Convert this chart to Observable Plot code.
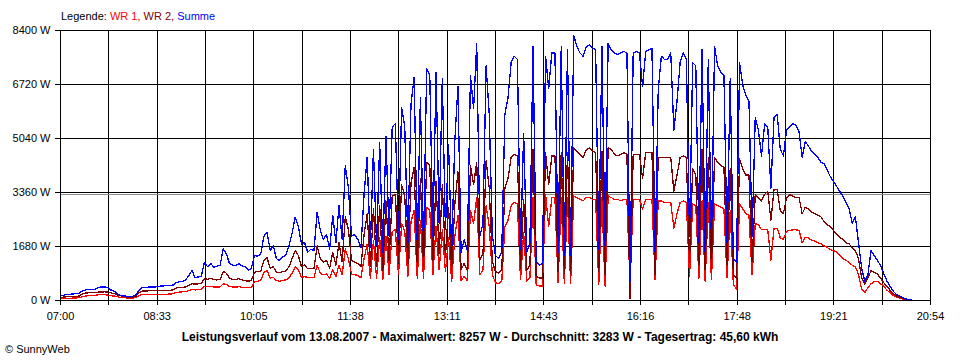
<!DOCTYPE html>
<html><head><meta charset="utf-8">
<script src="https://cdn.jsdelivr.net/npm/d3@7"></script>
<script src="https://cdn.jsdelivr.net/npm/@observablehq/plot@0.6"></script>
<style>
body{margin:0;background:#fff;font-family:Arial,"Liberation Sans",sans-serif;color:#000;}
#wrap{position:relative;width:960px;height:360px;overflow:hidden;background:#fff;}
#chart{position:absolute;left:0;top:0;}
#legend{position:absolute;left:61px;top:10px;font-size:11px;line-height:13px;white-space:nowrap;}
#caption{position:absolute;left:0;width:960px;top:330px;text-align:center;font-size:12px;font-weight:bold;line-height:14px;white-space:nowrap;}
#copy{position:absolute;left:5px;top:343px;font-size:11px;line-height:13px;white-space:nowrap;}
</style></head><body>
<div id="wrap"><div id="chart"></div><div id="legend"></div><div id="caption"></div><div id="copy"></div></div>
<script>
// ---- data ----
const startLabel = "07:00";
const sampleMinutes = 3;
const spanMinutes = 834;
const xTickLabels = ["07:00","08:33","10:05","11:38","13:11","14:43","16:16","17:48","19:21","20:54"];
const yTicks = [0, 1680, 3360, 5040, 6720, 8400];
const seriesNames = ["WR 1", "WR 2", "Summe"];
const seriesColors = ["#ff0000", "#800000", "#0000ff"];
const dateLabel = "13.08.2007";
const maxW = 8257;
const avgW = 3283;
const dayKWh = "45,60";
const copyright = "© SunnyWeb";

const wr1 = [50,60,70,70,75,80,90,120,140,150,150,160,175,180,180,170,150,140,120,100,
90,80,75,80,85,150,185,190,190,190,190,190,195,195,195,200,210,250,260,270,
280,310,340,330,335,340,440,430,440,420,420,420,520,500,440,420,415,430,410,400,
400,410,580,600,620,880,930,700,720,620,600,630,640,700,850,1040,950,720,740,720,
720,710,1100,850,800,820,700,950,750,1100,800,1600,1300,820,800,780,700,1300,1750,700,
1850,700,1950,650,2000,800,2150,2200,800,2400,2150,750,2450,2800,700,2500,700,2900,2800,800,
2300,950,2200,900,1950,600,2000,2650,620,750,620,2800,2400,3200,800,950,2950,2300,800,550,
520,600,2300,2500,2950,3050,3000,650,2100,600,720,3200,480,450,450,3300,2300,3200,3200,550,
3200,520,3200,520,3250,3200,3150,3100,3200,3200,3150,3150,500,3200,450,3250,3200,3150,3150,3100,
3150,3150,500,3150,3150,3150,2850,3150,3150,3150,650,3100,3100,3050,3050,3050,2250,2700,3050,3100,
3050,750,3000,2950,700,3100,600,3050,650,3000,2950,2900,2850,700,2800,500,350,3000,2850,2700,
2650,800,2400,2350,2200,2200,2200,1250,2250,2250,1950,1900,2150,2180,2200,2200,2180,1800,1970,1950,
1870,1850,1800,1760,1700,1650,1580,1550,1500,1400,1300,1250,1180,1100,1050,800,350,250,400,520,
580,600,520,450,330,250,170,110,80,50,30,15,5];

const wr2 = [100,105,115,115,120,130,140,200,230,240,245,250,260,265,270,260,240,220,180,150,
130,110,105,110,120,230,290,300,300,305,305,305,310,310,315,320,330,390,400,410,
420,470,520,510,520,530,680,660,690,650,640,660,900,850,700,660,650,680,640,620,
600,620,880,900,920,1250,1330,1000,1050,880,860,900,920,1050,1300,1550,1400,1050,1100,985,
1000,990,1700,1300,1200,1250,1000,1500,1100,1800,1200,2600,2200,1250,1200,1150,1050,2050,2700,1050,
2850,1050,2950,950,3100,1250,3250,3300,1200,3600,3250,1150,3650,4150,1100,3800,1050,4300,4200,1250,
3700,1450,3600,1350,2900,950,3000,4000,950,1150,950,4200,3600,4300,1250,1450,4350,3500,1200,900,
850,950,3500,3800,4450,4550,4500,1000,3150,950,1100,4700,750,700,700,4600,3600,4500,4500,900,
4600,850,4600,850,4750,4650,4550,4450,4700,4750,4650,4600,900,4650,800,4750,4700,4550,4500,4550,
4600,4550,60,4550,4550,4550,3800,4600,4600,4600,800,4450,4450,4450,4450,4450,3400,3900,4450,4500,
4450,1200,4100,3900,1100,4700,950,4450,1000,4450,4300,4200,4150,1100,4100,800,700,4400,4100,3900,
3900,1200,3300,3200,3100,3300,3400,2500,3450,3450,2800,2700,3200,3300,3250,3200,3200,2700,2900,2850,
2750,2700,2650,2600,2450,2350,2300,2180,2070,1970,1900,1800,1760,1650,1550,1300,700,500,700,930,
880,830,700,560,450,330,220,150,100,70,40,20,10];

const summe = [150,160,190,195,200,220,230,300,330,340,340,350,400,420,420,410,330,300,220,160,
150,130,120,130,160,300,400,410,415,420,420,430,450,455,460,470,480,560,580,600,
640,780,930,720,730,760,1190,1050,1150,1040,1060,1100,1600,1450,1150,1100,1090,1150,1080,1050,
950,1000,1400,1380,1450,2000,2125,1560,1700,1300,1250,1350,1400,1710,2100,2590,2300,1760,1800,1500,
1600,1550,2750,2200,1900,2050,1600,2650,1800,2950,1900,4200,3500,2000,2050,1900,1650,3300,4460,1650,
4700,1700,4900,1500,5100,2000,5400,5500,1900,6000,5400,1800,6100,6950,1700,6300,1650,7200,7000,2000,
7100,2400,6900,2200,4840,1500,4980,6650,1500,1900,1550,7000,5970,8000,2000,2400,7300,5800,2000,1400,
1300,1500,5800,6300,7400,7600,7500,1600,5200,1500,1800,7900,1200,1100,1150,7600,6600,7700,7700,1500,
7900,1400,7800,1400,8250,7900,7700,7600,7900,7950,7850,7800,1600,7900,1700,8000,7800,7700,7650,7700,
7750,7700,600,7700,7750,7700,6650,7750,7800,7850,1500,6550,7600,7500,7500,7700,5300,6200,7400,7700,
7500,2000,7400,7300,1800,7800,1500,7500,1700,7900,7300,7100,7000,1800,6900,1300,1200,7400,6700,6400,
6200,2000,5700,5300,4500,5500,5400,3500,5700,5800,4700,4500,5300,5400,5500,5450,5250,4450,4950,4800,
4650,4550,4450,4300,4250,4050,3850,3700,3550,3400,3250,3050,2850,2400,2600,1800,1000,600,800,1550,
1400,1250,1100,850,620,450,300,200,140,90,50,30,10];

// ---- table ----
const seriesValues = [wr1, wr2, summe];
const rows = [];
seriesValues.forEach((vals, k) => vals.forEach((v, i) => rows.push({t: i * sampleMinutes, v, s: seriesNames[k]})));

const xStep = spanMinutes / 18;
const xTicks = d3.range(19).map(k => k * xStep);
const fmtX = d => { const idx = Math.round(d / xStep); return idx % 2 ? "" : xTickLabels[idx / 2]; };

const chart = Plot.plot({
  width: 960, height: 360,
  marginLeft: 60, marginRight: 30, marginTop: 30, marginBottom: 60,
  style: {fontFamily: "Arial, 'Liberation Sans', sans-serif", fontSize: "11px", color: "#000", background: "#fff"},
  x: {domain: [0, spanMinutes]},
  y: {domain: [0, 8400]},
  color: {domain: seriesNames, range: seriesColors},
  marks: [
    Plot.gridX(xTicks, {stroke: "#000", strokeOpacity: 1, shapeRendering: "crispEdges"}),
    Plot.gridY(yTicks, {stroke: "#000", strokeOpacity: 1, shapeRendering: "crispEdges"}),
    Plot.ruleY([avgW], {stroke: "#8c8c8c", shapeRendering: "crispEdges"}),
    Plot.line(rows, {x: "t", y: "v", z: "s", stroke: "s", curve: "linear", strokeWidth: 1.3, shapeRendering: "crispEdges"}),
    Plot.frame({stroke: "#000", shapeRendering: "crispEdges"}),
    Plot.axisX(xTicks, {tickSize: 5, tickPadding: 7, tickFormat: fmtX, label: null, stroke: "#000", shapeRendering: "crispEdges"}),
    Plot.axisY(yTicks, {tickSize: 5, tickPadding: 5, tickFormat: d => d + " W", label: null, stroke: "#000", shapeRendering: "crispEdges"})
  ]
});
document.getElementById("chart").appendChild(chart);

const legend = document.getElementById("legend");
legend.appendChild(document.createTextNode("Legende: "));
seriesNames.forEach((n, k) => {
  const sp = document.createElement("span");
  sp.style.color = seriesColors[k];
  sp.textContent = n + (k < seriesNames.length - 1 ? ", " : "");
  legend.appendChild(sp);
});
document.getElementById("caption").textContent =
  `Leistungsverlauf vom ${dateLabel} - Maximalwert: ${maxW} W - Durchschnitt: ${avgW} W - Tagesertrag: ${dayKWh} kWh`;
document.getElementById("copy").textContent = copyright;
</script>
</body></html>
